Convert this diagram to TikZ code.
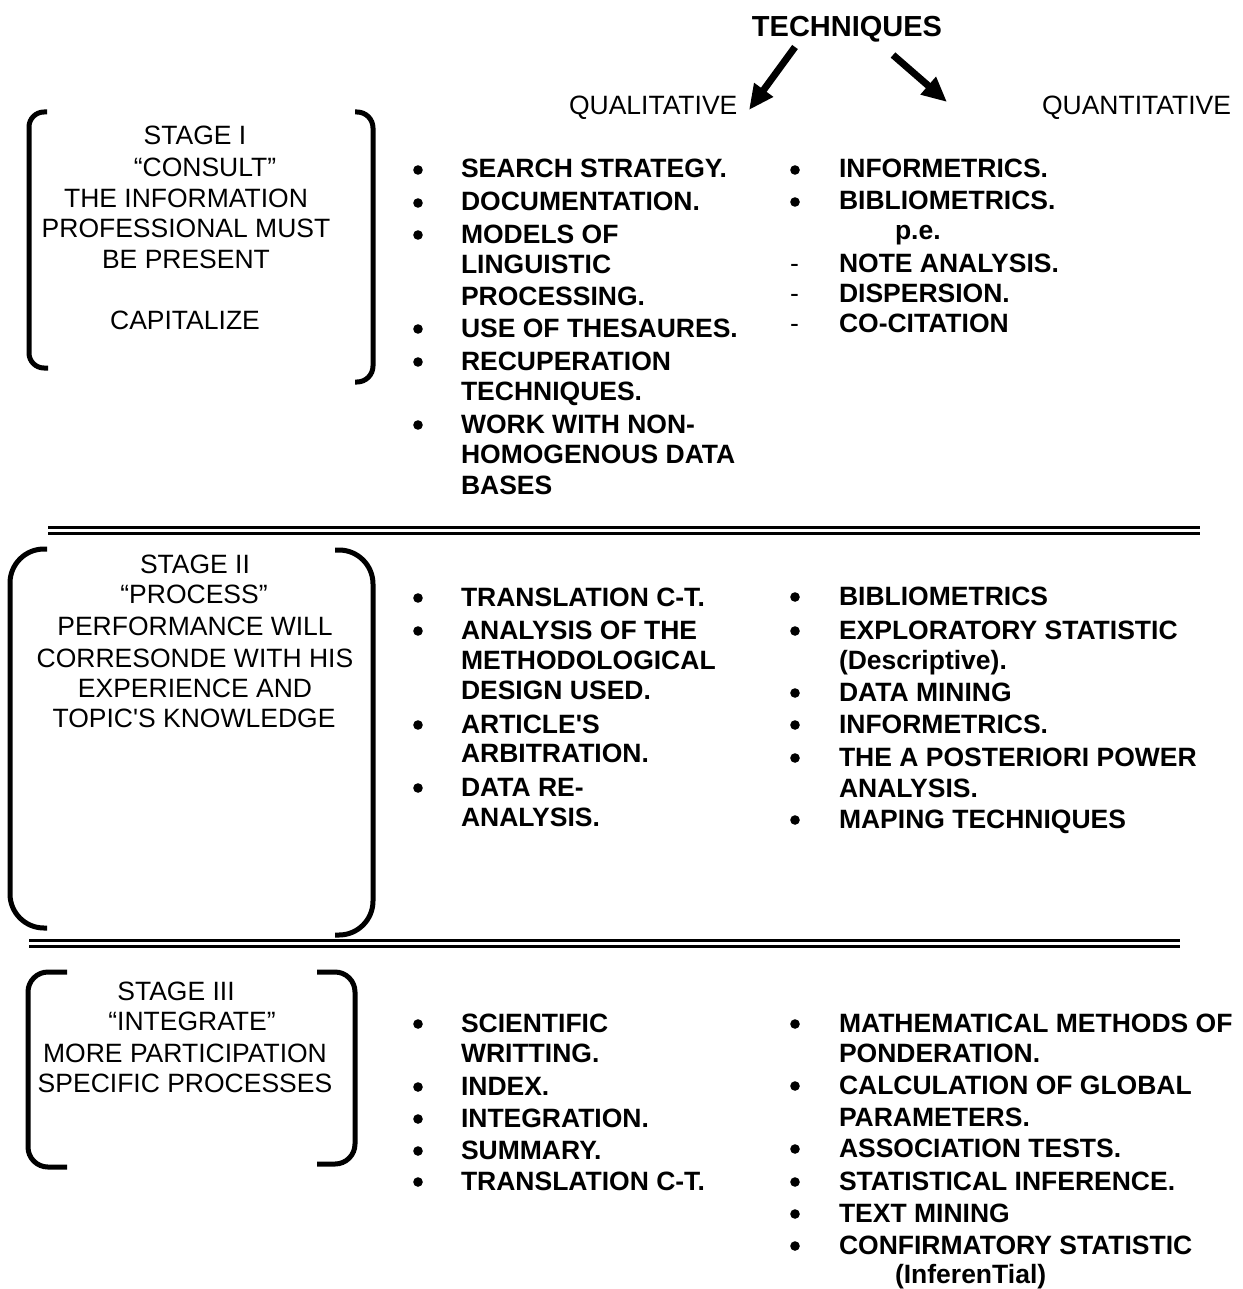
\documentclass[tikz,border=0pt]{standalone}
\usepackage{fontspec}
\setmainfont{Liberation Sans}
% plain family without TeX ligatures, so that ' stays a straight apostrophe
\newfontfamily\arialfont{Liberation Sans}
\usetikzlibrary{arrows.meta}

% bulleted entry: name, bullet x, text x, baseline y, text
\newcommand\bentry[5]{%
  \fill (#2,#4-8) circle[radius=2.4pt];
  \node[itemtxt] (#1) at (#3,#4) {#5};}
% dashed entry: name, dash x, text x, baseline y, text
\newcommand\dentry[5]{%
  \node[dashtxt] (#1d) at (#2,#4) {-};
  \node[itemtxt] (#1) at (#3,#4) {#5};}
% continuation line of an entry
\newcommand\contline[4]{\node[itemtxt] (#1) at (#2,#3) {#4};}

\begin{document}
\begin{tikzpicture}[x=0.5pt,y=-0.5pt,
  every node/.style={inner sep=0pt,outer sep=0pt},
  stagetxt/.style={anchor=base,font=\arialfont\fontsize{13.25}{15.25}\selectfont},
  headtxt/.style={anchor=base west,font=\arialfont\fontsize{13.25}{15.25}\selectfont},
  itemtxt/.style={anchor=base west,font=\arialfont\fontsize{13.25}{15.25}\selectfont\bfseries},
  dashtxt/.style={anchor=base west,font=\arialfont\fontsize{13.25}{15.25}\selectfont},
  bracketline/.style={line width=2.5pt},
  rule/.style={line width=1.5pt},
  bigarrow/.style={line width=3.5pt,-{Triangle[length=12.5pt,width=11pt]}}
]
\useasboundingbox (0,0) rectangle (1242,1289);

% ---------- heading ----------
\node[anchor=base,font=\arialfont\fontsize{14.5}{17}\selectfont\bfseries] (tech) at (847,37) {TECHNIQUES};
\node[headtxt] (qual) at (569,115) {QUALITATIVE};
\node[headtxt] (quant) at (1042,115) {QUANTITATIVE};
\coordinate (qlTail) at (795,47);
\coordinate (qlTip) at (749,110);
\coordinate (qnTail) at (893,55);
\coordinate (qnTip) at (947,102);
\draw[bigarrow] (qlTail) -- (qlTip);
\draw[bigarrow] (qnTail) -- (qnTip);

% ---------- stage I ----------
\draw[bracketline,rounded corners=7.5pt] (47,112) -| (29,368) -- (48,368);
\draw[bracketline,rounded corners=8pt] (355,112) -| (373,382) -- (355,382);
\node[stagetxt] (s1a) at (195,145) {STAGE I};
\node[stagetxt] (s1b) at (205,177) {“CONSULT”};
\node[stagetxt] (s1c) at (186,207) {THE INFORMATION};
\node[stagetxt] (s1d) at (186,237) {PROFESSIONAL MUST};
\node[stagetxt] (s1e) at (186,268) {BE PRESENT};
\node[stagetxt] (s1f) at (185,329) {CAPITALIZE};

\bentry{a1}{418}{461}{178}{SEARCH STRATEGY.}
\bentry{a2}{418}{461}{211}{DOCUMENTATION.}
\bentry{a3}{418}{461}{243}{MODELS OF}
\contline{a3b}{461}{273}{LINGUISTIC}
\contline{a3c}{461}{305}{PROCESSING.}
\bentry{a4}{418}{461}{337}{USE OF THESAURES.}
\bentry{a5}{418}{461}{370}{RECUPERATION}
\contline{a5b}{461}{400}{TECHNIQUES.}
\bentry{a6}{418}{461}{433}{WORK WITH NON-}
\contline{a6b}{461}{463}{HOMOGENOUS DATA}
\contline{a6c}{461}{494}{BASES}

\bentry{b1}{795}{839}{178}{INFORMETRICS.}
\bentry{b2}{795}{839}{210}{BIBLIOMETRICS.}
\contline{b2b}{895}{240}{p.e.}
\dentry{b3}{790}{839}{272}{NOTE ANALYSIS.}
\dentry{b4}{790}{839}{302}{DISPERSION.}
\dentry{b5}{790}{839}{332}{CO-CITATION}

% ---------- separator I / II ----------
\coordinate (r1a) at (48,527);
\coordinate (r1b) at (1200,527);
\coordinate (r1c) at (48,533);
\coordinate (r1d) at (1200,533);
\draw[rule] (r1a) -- (r1b);
\draw[rule] (r1c) -- (r1d);

% ---------- stage II ----------
\draw[bracketline,rounded corners=17pt] (47,549) -| (10,928) -- (47,928);
\draw[bracketline,rounded corners=17pt] (335,550) -| (373,935) -- (335,935);
\node[stagetxt] (s2a) at (195,573) {STAGE II};
\node[stagetxt] (s2b) at (194,603) {“PROCESS”};
\node[stagetxt] (s2c) at (195,635) {PERFORMANCE WILL};
\node[stagetxt] (s2d) at (195,667) {CORRESONDE WITH HIS};
\node[stagetxt] (s2e) at (195,697) {EXPERIENCE AND};
\node[stagetxt] (s2f) at (194,727) {TOPIC'S KNOWLEDGE};

\bentry{c1}{418}{461}{606}{TRANSLATION C-T.}
\bentry{c2}{418}{461}{639}{ANALYSIS OF THE}
\contline{c2b}{461}{669}{METHODOLOGICAL}
\contline{c2c}{461}{699}{DESIGN USED.}
\bentry{c3}{418}{461}{733}{ARTICLE'S}
\contline{c3b}{461}{762}{ARBITRATION.}
\bentry{c4}{418}{461}{796}{DATA RE-}
\contline{c4b}{461}{826}{ANALYSIS.}

\bentry{d1}{795}{839}{605}{BIBLIOMETRICS}
\bentry{d2}{795}{839}{639}{EXPLORATORY STATISTIC}
\contline{d2b}{839}{669}{(Descriptive).}
\bentry{d3}{795}{839}{701}{DATA MINING}
\bentry{d4}{795}{839}{733}{INFORMETRICS.}
\bentry{d5}{795}{839}{766}{THE A POSTERIORI POWER}
\contline{d5b}{839}{797}{ANALYSIS.}
\bentry{d6}{795}{839}{828}{MAPING TECHNIQUES}

% ---------- separator II / III ----------
\coordinate (r2a) at (29,940);
\coordinate (r2b) at (1180,940);
\coordinate (r2c) at (29,946);
\coordinate (r2d) at (1180,946);
\draw[rule] (r2a) -- (r2b);
\draw[rule] (r2c) -- (r2d);

% ---------- stage III ----------
\draw[bracketline,rounded corners=10pt] (67,972) -| (28,1167) -- (67,1167);
\draw[bracketline,rounded corners=10pt] (317,972) -| (355,1164) -- (317,1164);
\node[stagetxt] (s3a) at (176,1000) {STAGE III};
\node[stagetxt] (s3b) at (192,1030) {“INTEGRATE”};
\node[stagetxt] (s3c) at (185,1062) {MORE PARTICIPATION};
\node[stagetxt] (s3d) at (185,1092) {SPECIFIC PROCESSES};

\bentry{e1}{418}{461}{1032}{SCIENTIFIC}
\contline{e1b}{461}{1062}{WRITTING.}
\bentry{e2}{418}{461}{1095}{INDEX.}
\bentry{e3}{418}{461}{1127}{INTEGRATION.}
\bentry{e4}{418}{461}{1159}{SUMMARY.}
\bentry{e5}{418}{461}{1190}{TRANSLATION C-T.}

\bentry{f1}{795}{839}{1032}{MATHEMATICAL METHODS OF}
\contline{f1b}{839}{1062}{PONDERATION.}
\bentry{f2}{795}{839}{1094}{CALCULATION OF GLOBAL}
\contline{f2b}{839}{1126}{PARAMETERS.}
\bentry{f3}{795}{839}{1157}{ASSOCIATION TESTS.}
\bentry{f4}{795}{839}{1190}{STATISTICAL INFERENCE.}
\bentry{f5}{795}{839}{1222}{TEXT MINING}
\bentry{f6}{795}{839}{1254}{CONFIRMATORY STATISTIC}
\contline{f6b}{895}{1283}{(InferenTial)}
\end{tikzpicture}
\end{document}
